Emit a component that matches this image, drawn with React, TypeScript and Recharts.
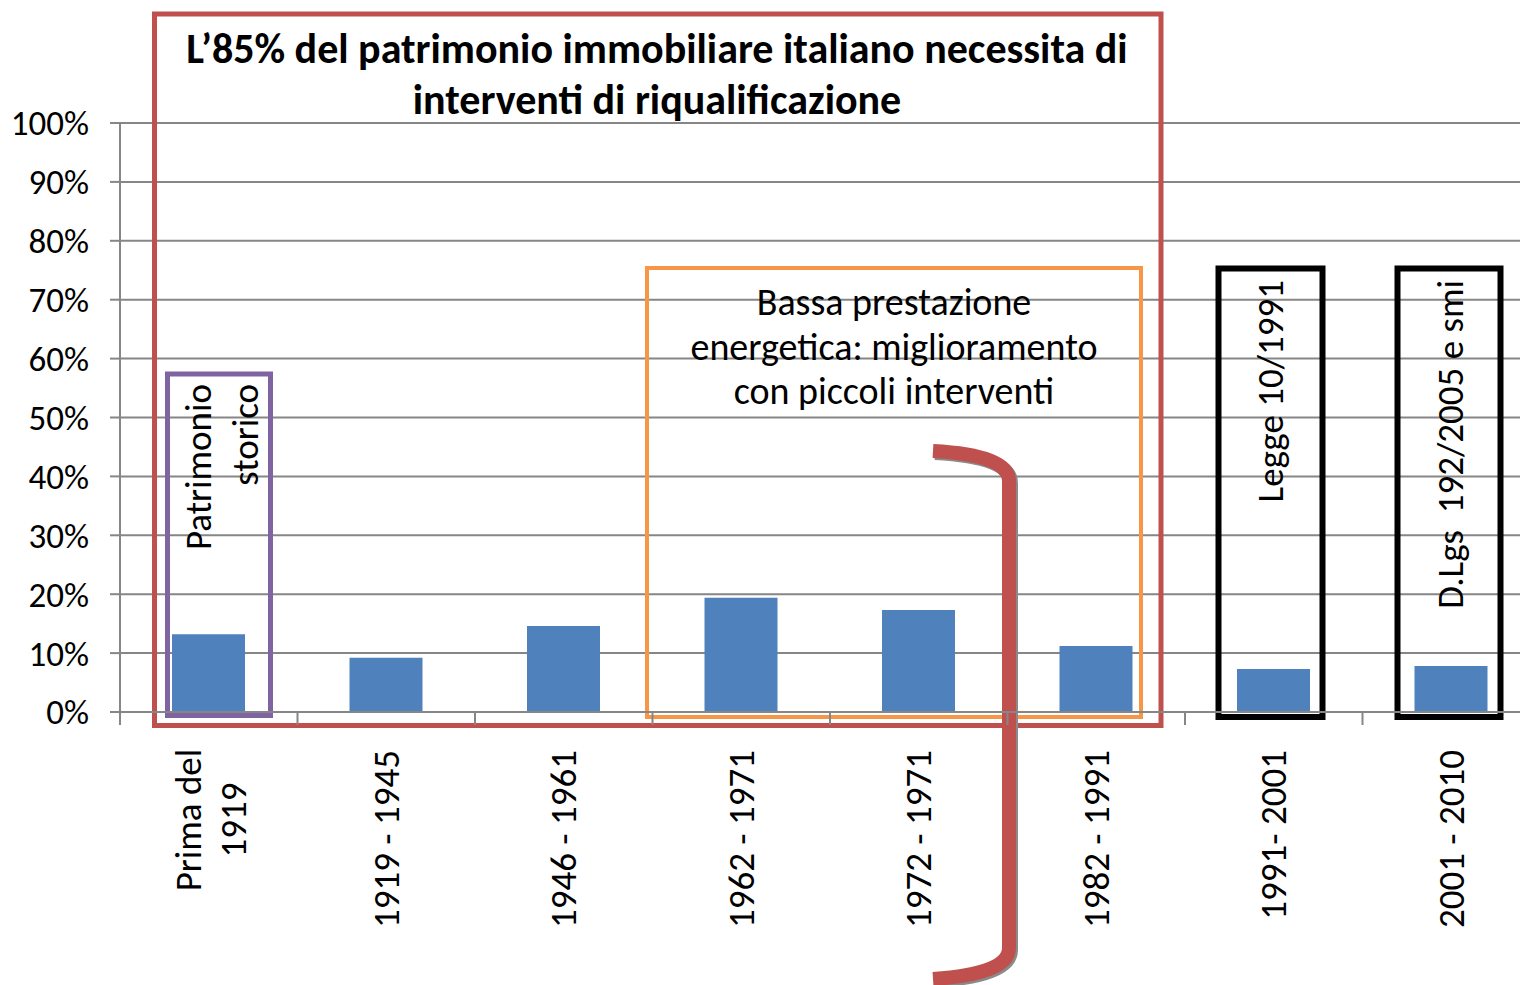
import { Bar, BarChart, CartesianGrid, Customized, XAxis, YAxis } from "recharts";

const periods = [
  "Prima del\n1919",
  "1919 - 1945",
  "1946 - 1961",
  "1962 - 1971",
  "1972 - 1971",
  "1982 - 1991",
  "1991- 2001",
  "2001 - 2010",
];
const shares = [0.132, 0.092, 0.146, 0.194, 0.173, 0.112, 0.073, 0.078];
const yTicks = [0, 0.1, 0.2, 0.3, 0.4, 0.5, 0.6, 0.7, 0.8, 0.9, 1];

const titleLines = [
  "L\u201985% del patrimonio immobiliare italiano necessita di",
  "interventi di riqualificazione",
];
const orangeNote = [
  "Bassa prestazione",
  "energetica: miglioramento",
  "con piccoli interventi",
];
const purpleNote = ["Patrimonio", "storico"];
const law1 = "Legge 10/1991";
const law2 = "D.Lgs\u00a0 192/2005 e smi";

const data = periods.map((p, i) => ({ period: p, share: shares[i] }));

const FONT = "Carlito, Calibri, Lato, sans-serif";
const GRID = "#868686";
const BAND = 177.5;
const AXIS_Y = 712;

function XTick({ x, payload }: { x: number; y: number; payload: { value: string } }) {
  const lines = payload.value.split("\n");
  const top = 750;
  const left = x - BAND / 2;
  return (
    <g>
      <line x1={left} x2={left} y1={AXIS_Y} y2={725} stroke={GRID} strokeWidth={2} />
      {lines.length === 1 ? (
        <text
          x={x}
          y={top}
          transform={`rotate(-90 ${x} ${top})`}
          textAnchor="end"
          dominantBaseline="central"
          fontFamily={FONT}
          fontSize={37}
          fill="#000"
        >
          {lines[0]}
        </text>
      ) : (
        lines.map((l, i) => {
          const cx = x - 20 + i * 45;
          const cy = top + 70;
          return (
            <text
              key={i}
              x={cx}
              y={cy}
              transform={`rotate(-90 ${cx} ${cy})`}
              textAnchor="middle"
              dominantBaseline="central"
              fontFamily={FONT}
              fontSize={37}
              fill="#000"
            >
              {l}
            </text>
          );
        })
      )}
    </g>
  );
}

function VText({ x, y, text, size = 37 }: { x: number; y: number; text: string; size?: number }) {
  return (
    <text
      x={x}
      y={y}
      transform={`rotate(-90 ${x} ${y})`}
      textAnchor="end"
      dominantBaseline="central"
      fontFamily={FONT}
      fontSize={size}
      fill="#000"
    >
      {text}
    </text>
  );
}

function Annotations() {
  return (
    <g>
      {/* red frame + title */}
      <rect x={154.5} y={14} width={1006.5} height={711.5} fill="none" stroke="#C0504D" strokeWidth={5} />
      {titleLines.map((t, i) => (
        <text
          key={i}
          x={657}
          y={63 + i * 51}
          textAnchor="middle"
          fontFamily={FONT}
          fontWeight="bold"
          fontSize={42}
          fill="#000"
        >
          {t}
        </text>
      ))}

      {/* purple box */}
      <rect x={167.5} y={374} width={103} height={341.5} fill="none" stroke="#8064A2" strokeWidth={5} />
      {purpleNote.map((t, i) => (
        <VText key={i} x={198 + i * 47} y={384} text={t} />
      ))}

      {/* orange box */}
      <rect x={647} y={268} width={494} height={449} fill="none" stroke="#F79646" strokeWidth={4} />
      {orangeNote.map((t, i) => (
        <text
          key={i}
          x={894}
          y={315 + i * 44.5}
          textAnchor="middle"
          fontFamily={FONT}
          fontSize={38}
          fill="#000"
        >
          {t}
        </text>
      ))}

      {/* law boxes */}
      <rect x={1218.5} y={268.5} width={104} height={448.5} fill="none" stroke="#000" strokeWidth={6} />
      <VText x={1270} y={280} text={law1} />
      <rect x={1397.5} y={268.5} width={103} height={448.5} fill="none" stroke="#000" strokeWidth={6} />
      <VText x={1450} y={280} text={law2} />

      {/* bracket */}
      <path
        d="M 933 451 Q 1009 455 1009 481 L 1009 948 Q 1009 974 933 979"
        fill="none"
        stroke="#8a8a8a"
        strokeWidth={14}
        transform="translate(2 2)"
      />
      <path
        d="M 933 451 Q 1009 455 1009 481 L 1009 948 Q 1009 974 933 979"
        fill="none"
        stroke="#C0504D"
        strokeWidth={14}
      />
    </g>
  );
}

export default function App() {
  return (
    <div
      style={{
        position: "fixed",
        left: 0,
        top: 0,
        width: 1520,
        height: 985,
        overflow: "hidden",
        background: "#fff",
      }}
    >
      <BarChart
        width={1560}
        height={985}
        data={data}
        margin={{ top: 123, right: 20, bottom: 0, left: 0 }}
        barSize={73}
      >
        <CartesianGrid vertical={false} stroke={GRID} strokeWidth={2} />
        <XAxis
          dataKey="period"
          interval={0}
          height={273}
          axisLine={{ stroke: GRID, strokeWidth: 2 }}
          tickLine={false}
          tick={(props: any) => <XTick {...props} />}
        />
        <YAxis
          domain={[0, 1]}
          ticks={yTicks}
          width={120}
          tickSize={10}
          tickMargin={21}
          tickFormatter={(v: number) => `${Math.round(v * 100)}%`}
          axisLine={{ stroke: GRID, strokeWidth: 2 }}
          tickLine={{ stroke: GRID, strokeWidth: 2 }}
          tick={{ fontFamily: FONT, fontSize: 35, fill: "#000" }}
        />
        <Bar dataKey="share" fill="#4F81BD" isAnimationActive={false} />
        <Customized component={<Annotations />} />
      </BarChart>
    </div>
  );
}
